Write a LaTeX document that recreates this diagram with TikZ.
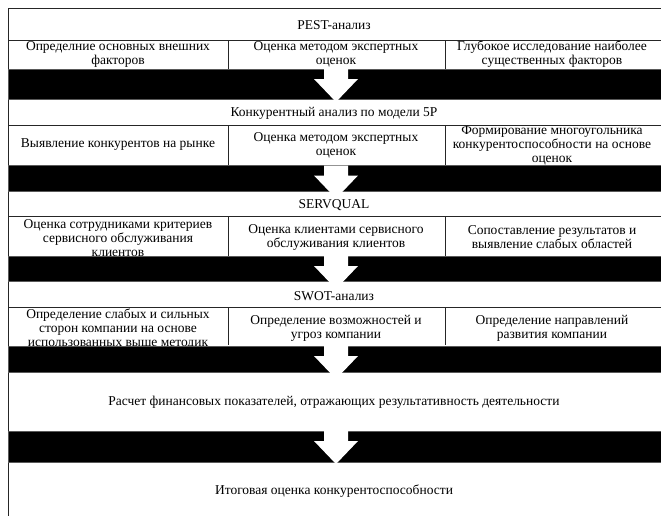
\documentclass[tikz,border=0pt]{standalone}
\usepackage{fontspec}
\setmainfont{Liberation Serif}
\begin{document}
\begin{tikzpicture}[x=1pt,y=-1pt,
  txt/.style={align=center, font=\fontsize{13.5}{14}\selectfont, inner sep=0pt},
  gridline/.style={draw=black!85, line width=0.9pt},
  band/.style={fill=black, draw=black!65, line width=0.6pt},
  whitearrow/.style={fill=white, draw=none}]
\useasboundingbox (0,0) rectangle (661,515);
\begin{scope}
\clip (0,0) rectangle (661,515);
% ---------- texts ----------
\node[txt] (h1) at (334,25) {PEST-анализ};
\node[txt] (c11) at (118,54.5) {Определние основных внешних\\факторов};
\node[txt] (c12) at (336,54.5) {Оценка методом экспертных\\оценок};
\node[txt] (c13) at (552,54.5) {Глубокое исследование наиболее\\существенных факторов};

\node[txt] (h2) at (334,113) {Конкурентный анализ по модели 5P};
\node[txt] (c21) at (118,145) {Выявление конкурентов на рынке};
\node[txt] (c22) at (336,145) {Оценка методом экспертных\\оценок};
\node[txt] (c23) at (552,145.5) {Формирование многоугольника\\конкурентоспособности на основе\\оценок};

\node[txt] (h3) at (334,205) {SERVQUAL};
\node[txt] (c31) at (118,238) {Оценка сотрудниками критериев\\сервисного обслуживания\\клиентов};
\node[txt] (c32) at (336,237) {Оценка клиентами сервисного\\обслуживания клиентов};
\node[txt] (c33) at (552,237) {Сопоставление результатов и\\выявление слабых областей};

\node[txt] (h4) at (334,296) {SWOT-анализ};
\node[txt] (c41) at (118,329) {Определение слабых и сильных\\сторон компании на основе\\использованных выше методик};
\node[txt] (c42) at (336,328) {Определение возможностей и\\угроз компании};
\node[txt] (c43) at (552,328) {Определение направлений\\развития компании};

\node[txt] (r5) at (334,402) {Расчет финансовых показателей, отражающих результативность деятельности};
\node[txt] (r6) at (334,491) {Итоговая оценка конкурентоспособности};

% ---------- grid ----------
\draw[gridline] (8,8) -- (665,8);
\draw[gridline] (8,8) -- (8,520);
\draw[gridline] (8,40) -- (665,40);
\draw[gridline] (8,125) -- (665,125);
\draw[gridline] (8,216) -- (665,216);
\draw[gridline] (8,307) -- (665,307);
\foreach \x in {228,445} {
  \draw[gridline] (\x,40) -- (\x,69);
  \draw[gridline] (\x,125) -- (\x,165);
  \draw[gridline] (\x,216) -- (\x,256);
  \draw[gridline] (\x,307) -- (\x,345);
}

% ---------- black bands with white arrows ----------
\foreach \t/\b in {69/99, 165.5/191, 256/281, 346/372, 431/462} {
  \draw[band] (8,\t) rectangle (665,\b);
  \fill[whitearrow] (324,\t) -- (348,\t) -- (348,\t+10) -- (358,\t+10)
     -- (336,\t+33) -- (314,\t+10) -- (324,\t+10) -- cycle;
}
\end{scope}
\end{tikzpicture}
\end{document}
